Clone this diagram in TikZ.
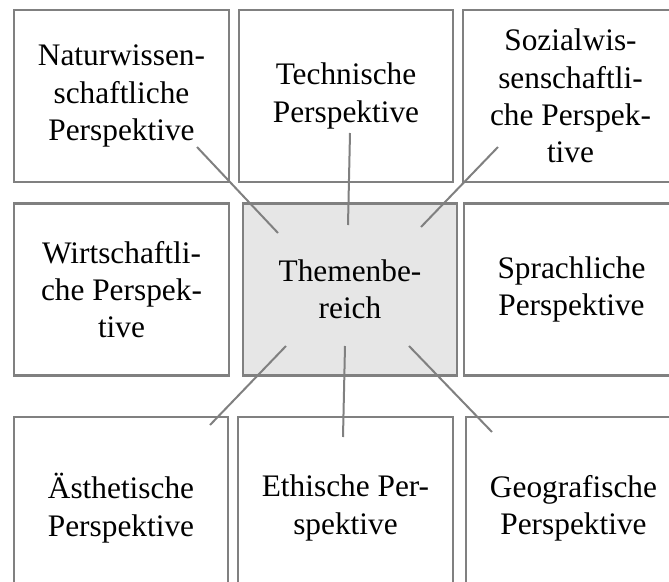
\documentclass[tikz,border=0pt]{standalone}
\usepackage{fontspec}
\setmainfont{Liberation Serif}
\definecolor{rahmen}{RGB}{128,128,128}
\definecolor{kern}{RGB}{230,230,230}
\tikzset{
  pbox/.style={draw=rahmen, line width=1.6pt, minimum width=161pt, minimum height=129pt,
    align=center, inner sep=0pt, font=\fontsize{23.5}{28}\selectfont},
  hub/.style={pbox, fill=kern},
  link/.style={draw=rahmen, line width=1.5pt}
}
\begin{document}
\begin{tikzpicture}[x=0.75pt,y=-0.75pt]
    \useasboundingbox (0,0) rectangle (669,582);
    \clip (0,0) rectangle (669,582);
    %% top row
    \node[pbox] (natur) at (121.5,96) {Naturwissen-\\schaftliche\\Perspektive};
    \node[pbox] (technik) at (346,96) {Technische\\Perspektive};
    \node[pbox] (sozial) at (570.5,96) {Sozialwis-\\senschaftli-\\che Perspek-\\tive};
    %% middle row
    \node[pbox] (wirtschaft) at (121.5,289.5) {Wirtschaftli-\\che Perspek-\\tive};
    \node[hub] (thema) at (350,289.5) {Themenbe-\\reich};
    \node[pbox] (sprache) at (571.5,289.5) {Sprachliche\\Perspektive};
    %% bottom row
    \node[pbox, minimum height=136.5pt] (aesthetik) at (121,508) {Ästhetische\\Perspektive};
    \node[pbox, minimum height=136.5pt] (ethik) at (345.5,508) {Ethische Per-\\spektive};
    \node[pbox, minimum height=136.5pt] (geo) at (573.5,508) {Geografische\\Perspektive};
    %% line ends
    \coordinate (natur-end) at (197,147);   \coordinate (thema-nw) at (278,233);
    \coordinate (technik-end) at (350,133); \coordinate (thema-n) at (348,225);
    \coordinate (sozial-end) at (498,147);  \coordinate (thema-ne) at (421,227);
    \coordinate (aesthetik-end) at (210,425); \coordinate (thema-sw) at (286,346);
    \coordinate (ethik-end) at (343,437);   \coordinate (thema-s) at (345,346);
    \coordinate (geo-end) at (492,432);     \coordinate (thema-se) at (409,346);
    \draw[link] (natur-end) -- (thema-nw);
    \draw[link] (technik-end) -- (thema-n);
    \draw[link] (sozial-end) -- (thema-ne);
    \draw[link] (thema-sw) -- (aesthetik-end);
    \draw[link] (thema-s) -- (ethik-end);
    \draw[link] (thema-se) -- (geo-end);
\end{tikzpicture}
\end{document}
